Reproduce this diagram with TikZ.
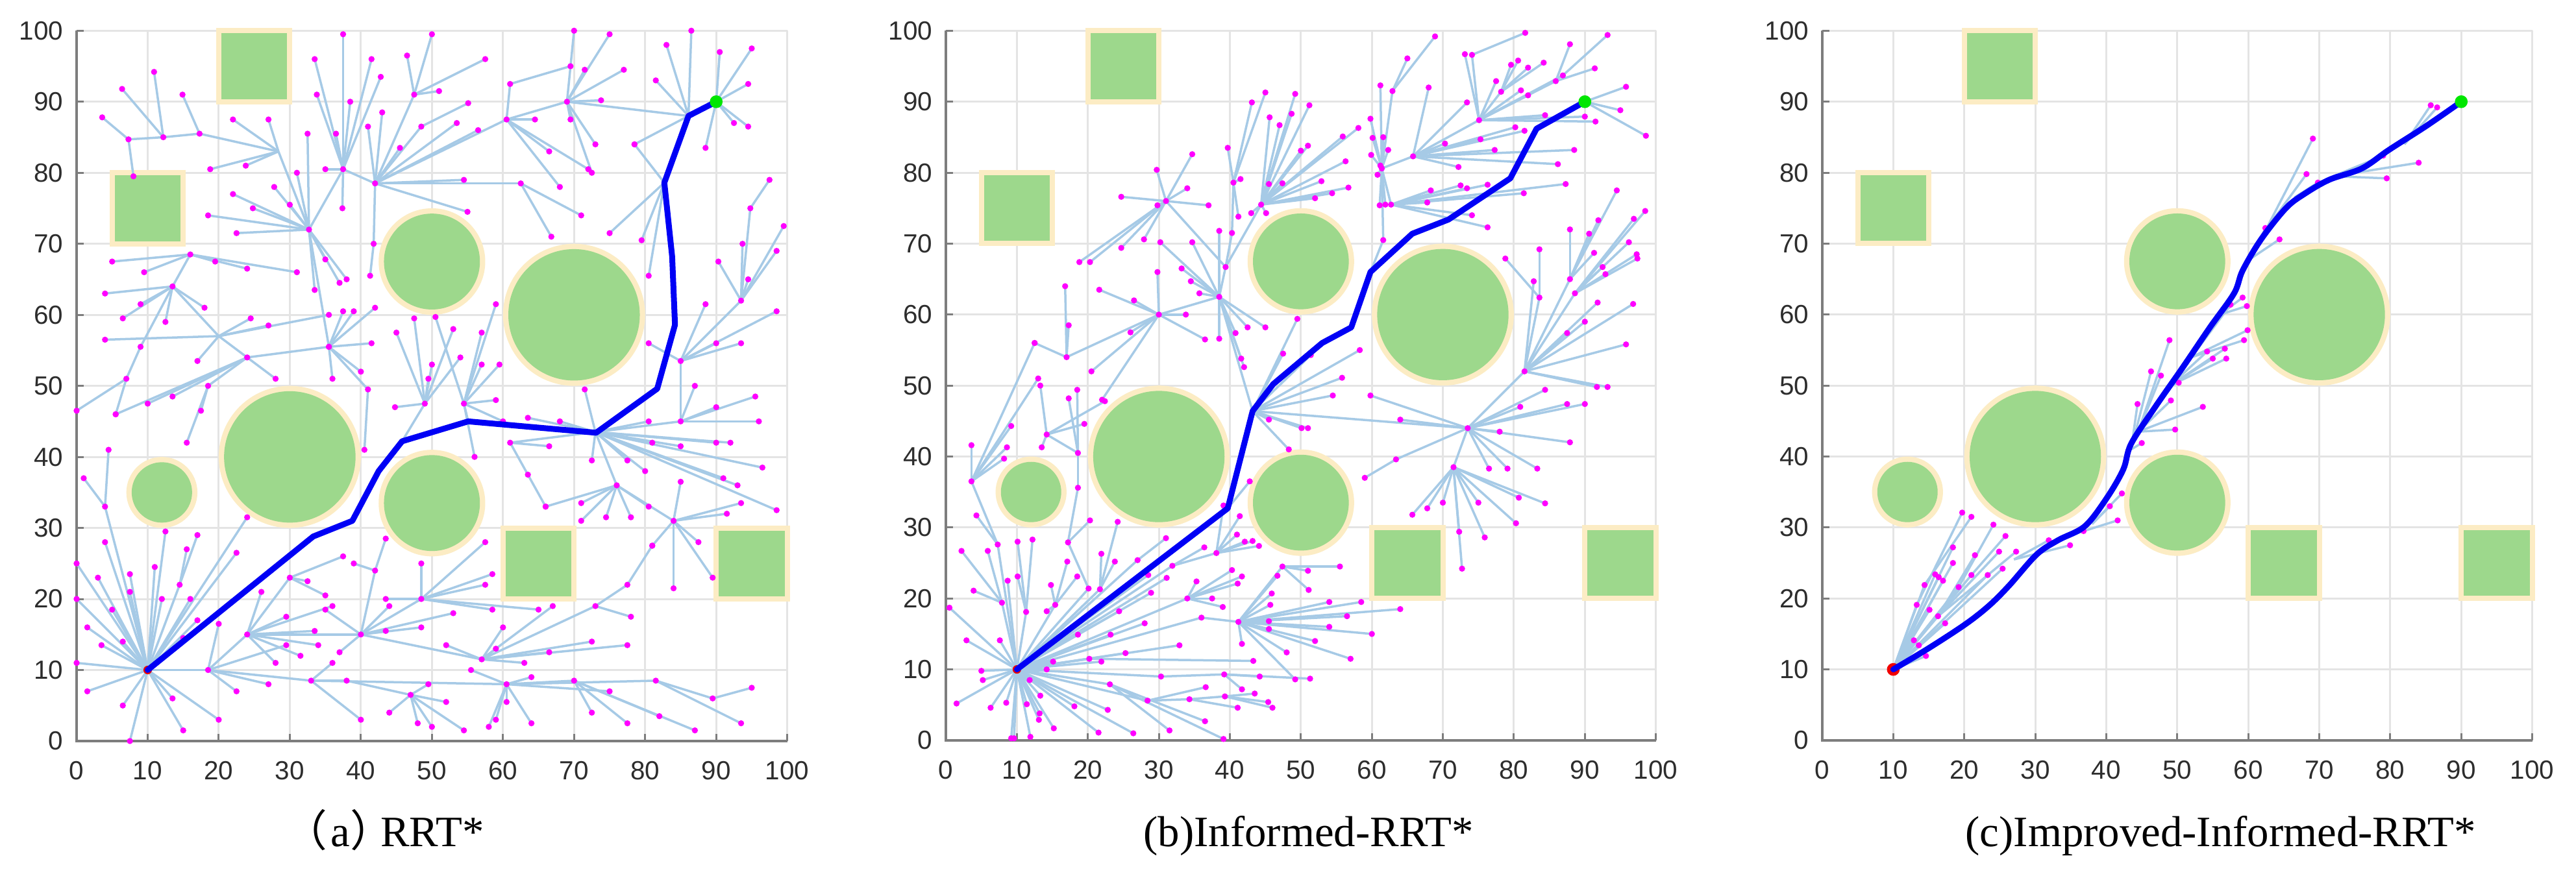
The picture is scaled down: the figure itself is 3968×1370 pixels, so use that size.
\documentclass[tikz,border=0pt]{standalone}
\usepackage{fontspec}
\setmainfont{Liberation Serif}
\newfontfamily\axfont{Liberation Sans}
\newfontfamily\cjkfont{Noto Sans CJK SC}
\definecolor{obsgreen}{RGB}{157,216,140}
\definecolor{obscream}{RGB}{252,236,196}
\definecolor{treeblue}{RGB}{166,202,230}
\definecolor{gridgray}{RGB}{228,228,228}
\definecolor{axgray}{RGB}{125,125,125}
\definecolor{labgray}{RGB}{45,45,45}
\definecolor{pathblue}{RGB}{0,0,245}
\definecolor{goalgreen}{RGB}{0,230,0}
\definecolor{startred}{RGB}{240,0,0}
\definecolor{dotmag}{RGB}{255,0,255}
\tikzset{
 gridline/.style={draw=gridgray,line width=0.03cm},
 axline/.style={draw=axgray,line width=0.04cm},
 tickline/.style={draw=axgray,line width=0.03cm},
 sqobs/.style={fill=obsgreen,draw=obscream,line width=0.08cm},
 tedge/.style={draw=treeblue,line width=0.035cm},
 tdot/.style={fill=dotmag},
 route/.style={draw=pathblue,line width=0.09cm,line join=round,line cap=round},
 ticklab/.style={font=\axfont\fontsize{11.5}{11.5}\selectfont,text=labgray,inner sep=0pt},
 caption/.style={font=\fontsize{19}{22}\selectfont,inner sep=0pt,anchor=base west},
}
\newcommand\plotbase{%
 \foreach \t in {0,10,...,100}{\draw[gridline] (\t,0) -- (\t,100); \draw[gridline] (0,\t) -- (100,\t);}
 \foreach \cx/\cy/\r in {12/35/5,30/40/10,50/67.5/7.5,50/33.5/7.5,70/60/10}{%
   \fill[obscream] (\cx,\cy) circle[radius=\r];
   \fill[obsgreen] (\cx,\cy) circle[radius=\r-0.75];}
 \foreach \sx/\sy in {20/90,5/70,60/20,90/20}{\draw[sqobs] (\sx,\sy) rectangle ++(10,10);}
 \draw[axline] (0,100) -- (0,0) -- (100,0);
 \foreach \t in {0,10,...,100}{%
   \draw[tickline] (\t,0) -- (\t,1); \draw[tickline] (0,\t) -- (1,\t);
   \node[ticklab,anchor=north] (xl\t) at ([yshift=-0.31cm]\t,0) {\t};
   \node[ticklab,anchor=east] (yl\t) at ([xshift=-0.2cm]0,\t) {\t};}
}
\newcommand\hubedges[3]{\foreach \cx/\cy in {#3}{\draw[tedge] (#1,#2) -- (\cx,\cy);}}
\newcommand\hubdots[3]{\foreach \cx/\cy in {#3}{\fill[tdot] (\cx,\cy) circle[radius=0.047cm];}}
\newcommand\drawtree[1]{\let\treehub\hubedges #1\let\treehub\hubdots #1}
\newcommand\goalpoint{\fill[goalgreen] (90,90) circle[radius=0.9];}
\newcommand\treeA{%
\treehub{10}{10}{0/11,1.5/7,6.5/5,7.5/0,3.5/13.5,1.5/16,0/20,5/18.5,6.5/14,3/23,0/25,4/33,7.5/21,7.5/23.5,11/24.5,12.5/29.5,12/20,15/14.5,17/17,13.5/6,15/1.5,20/3,18.5/10,14.5/22,16/20,22.5/26.5,24/31.5,4/28}%
\treehub{4}{33}{4.5/41,1/37}%
\treehub{14.5}{22}{17/29,15.5/27}%
\treehub{18.5}{10}{22.5/7,27/8,33/8.5,24/15,29.5/13.5,20/16.5}%
\treehub{24}{15}{29.5/17.5,33.5/15.5,34/13.5,28/11,30/23,26/21,36/19,31.5/12,40/15}%
\treehub{30}{23}{37.5/26,32.5/22.5,35/20.5}%
\treehub{33}{8.5}{38/8.5,40/3,60.5/8,36/11}%
\treehub{38}{8.5}{47/6.5}%
\treehub{47}{6.5}{48/2.5,50/2,54.5/1.5,52/5.5,49.5/8,44/4}%
\treehub{60.5}{8}{60.5/5.5,59/3,58/2,64/2.5,64/9,70/8.5,81.5/8.5,75/7,55.5/10}%
\treehub{70}{8.5}{72.5/4,77.5/2.5,82/3.5,87/1.5}%
\treehub{81.5}{8.5}{89.5/6,93.5/2.5}%
\treehub{89.5}{6}{95/7.5}%
\treehub{40}{15}{43.5/15.5,48.5/16,53/18,35/18.5,42/24,57/11.5,48.5/20,44/19,37/12.5}%
\treehub{42}{24}{43.5/28.5,39/25}%
\treehub{57}{11.5}{59/13,66.5/12.5,72.5/14,77.5/13.5,60/16,52/13.5,63/11,67/19,73/19}%
\treehub{48.5}{20}{43.5/20,58.5/18.5,65/18.5,57.5/22,58.5/23.5,48.5/25,57.5/28}%
\treehub{73}{19}{78/17.5,77.5/22}%
\treehub{77.5}{22}{81/27.5}%
\treehub{84}{31}{84/21.5,89.5/23,87.5/28,91.5/32,85/36.5,93.5/33.5,81/27.5}%
\treehub{76}{36}{78/31.5,74.5/31.5,71/33.5,71/31,80.5/33,84/31,66/33}%
\treehub{61}{42}{63.5/37.5,66.5/41.5}%
\treehub{63.5}{37.5}{66/33}%
\treehub{73}{43.5}{76/36,80.5/45,85/45,77.5/39.5,80/38,81/42,85/41.5,90/42,92/42,72.5/39.5,68/45,63.5/45.5,61/42,71.5/49.5,91/37,96.5/38.5,98.5/32.5,93/36}%
\treehub{85}{45}{85/53.5,95.5/48.5,90/47,87/50,96/45}%
\treehub{85}{53.5}{98.5/60.5,93.5/56,90/56,88.5/61.5,93.5/62,80.5/56}%
\treehub{93.5}{62}{94.8/75,93.7/70,98.5/69,99.5/72.5,90.3/67.5,94.5/65}%
\treehub{94.8}{75}{97.5/79}%
\treehub{90}{90}{95/97.5,94.5/92.5,92.5/87,94.5/86.5,90.5/97,88.5/83.5}%
\treehub{86.1}{88}{86.5/100,83/98,81.5/93,78.5/84}%
\treehub{69}{90}{86.1/88,73.8/90.2,77/94.5,71.5/94.5,70/100,75/99.5,69.5/87.5,73/84,72.5/80}%
\treehub{60.5}{87.5}{64.5/87.5,66.5/83,68/78,69/90,61/92.5,72/80.5}%
\treehub{61}{92.5}{69.5/95}%
\treehub{42}{78.5}{60.5/87.5,54.5/79,62.5/78.5,45.5/83.5,48.5/86.5,56.5/86,53.5/87,41/86.5,43/88.5,47.5/91,55/74.5,41.8/70}%
\treehub{48.5}{86.5}{55.1/89.8}%
\treehub{62.5}{78.5}{66.8/71,71/74}%
\treehub{82.7}{78.6}{75/71.5,79.5/70.5,80.5/65.5,78.5/84}%
\treehub{47.5}{91}{46.5/96.5,50/99.5,51/91.5,57.5/96}%
\treehub{37.5}{80.5}{37.5/99.5,38.5/90,41.5/96,42.8/93.5,36.5/85.5,33.8/91,35/80.5,42/78.5,33.5/96,37.4/75}%
\treehub{32.7}{72}{37.5/80.5,18.5/74,22.5/71.5,24.8/75,22/77,27.8/78,30/75.5,31/80,32.5/85.5,35/67.8,37/64.5,38/65,33.5/63.5,35.5/55.5}%
\treehub{28.4}{83}{22/87.5,27/87.5,18.8/80.5,23.8/81,17.3/85.5,32.7/72}%
\treehub{17.3}{85.5}{12.2/85,14.9/91}%
\treehub{12.2}{85}{6.4/91.8,10.9/94.2,7.3/84.7}%
\treehub{7.3}{84.7}{8/79.5,3.6/87.8}%
\treehub{16}{68.5}{9.5/66,5/67.5,19.5/67.5,24/66.5,31/66}%
\treehub{13.5}{64}{4/63,9/61.5,6.5/59.5,18/61,12.5/59,16/68.5,9/55.5}%
\treehub{9}{55.5}{7/51}%
\treehub{7}{51}{0/46.5,5.5/46}%
\treehub{20}{57}{24.5/59.5,27/58.5,24/54,17/53.5,4/56.5,13.5/64,35.5/60}%
\treehub{24}{54}{18.5/50,13.5/48.5,10/47.5,28/51,35.5/55.5,5.5/46}%
\treehub{18.5}{50}{15.5/42,17.5/46.5}%
\treehub{35.5}{55.5}{41.5/56,36/51,40/52,42/61,37.5/60.5,39/60.5,41/49.5}%
\treehub{41}{49.5}{40.5/41}%
\treehub{41.8}{70}{41.3/65.5}%
\treehub{45.8}{42.2}{49/47.5}%
\treehub{49}{47.5}{49.5/51,50/53,53/58,54/54,47.5/59.5,44.8/47,45/57.5}%
\treehub{55.1}{45}{54.5/47.5}%
\treehub{54.5}{47.5}{57/53,59/48,59.5/53,59/61.5,57/57.5,50.5/59.7,56/40,60/45}%
}
\newcommand\treeB{%
\treehub{10}{10}{0.5/18.7,2.9/14.1,1.5/5.2,5/9.8,5.2/8.5,6.3/4.6,8.5/5.3,9.2/0.3,9.6/0.3,11.9/0.5,11.4/5.1,13.2/3.8,13.1/2.9,15.2/1.7,13.3/6.3,11.8/8.5,14.2/10,15.1/11.1,7.6/14.1,7.3/27.6,7.9/19.4,8.7/22.5,11.3/18.1,15.4/19.1,18.6/14.9,23.2/14.9,28/16.5,34/20,36/17.3,32.9/13.4,25.3/12.3,20.2/11.5,21.9/11.1,23.1/7.9,18.1/4.8,22.8/4.3,21.5/1.1,26.4/1,28.4/5.6,30.3/9,20.1/21.4,21.7/21.3,24.4/18.2,31.9/24.6,27/25.4,28.5/23.3,31.1/22.9,28.9/20.8}%
\treehub{7.3}{27.6}{3.6/36.5,4.3/31.7}%
\treehub{3.6}{36.5}{3.6/41.6,8.6/41.3,8.2/39.7,9.2/44.3,12.5/56,13/51}%
\treehub{7.9}{19.4}{2.2/26.7,5.9/26.7,3.9/21.1}%
\treehub{11.3}{18.1}{10.1/28,12.2/28.3,10.1/23.1}%
\treehub{15.4}{19.1}{17.1/25.2,18.5/23.1,14.8/21.9,14.2/18.2}%
\treehub{20.1}{21.4}{17.2/27.9}%
\treehub{17.2}{27.9}{20.3/31,18.6/35.6}%
\treehub{18.6}{35.6}{18.6/40.5}%
\treehub{18.6}{40.5}{14.2/43.1,18.5/49.4,17.3/48.2}%
\treehub{14.2}{43.1}{13.5/41.3,19.5/44.6,22.4/47.8,13.3/50}%
\treehub{21.7}{21.3}{21.9/26.3,24.2/30.8,23.8/25.2}%
\treehub{27}{25.4}{31/28.5}%
\treehub{34}{20}{35.3/22.4,37.5/20,39/18.8,40.3/24,41.1/22.1,41.7/23.1}%
\treehub{36}{17.3}{41.2/16.7}%
\treehub{41.2}{16.7}{45.5/16.8,45.5/15.7,45.7/19.1,45.9/20.7,41.7/13.6,48/12.4,49.2/8.6,54/16,56.5/17.5,60/15,64/18.5,58.5/19.5,54/19.5,52/14,57/11.5,46.7/23.2,47.4/24.5}%
\treehub{20.2}{11.5}{43.3/11.2}%
\treehub{30.3}{9}{39.2/9.3}%
\treehub{39.2}{9.3}{44.2/9,41.7/7.2,51.3/8.7}%
\treehub{28.4}{5.6}{34.3/5.8,36.6/7.5}%
\treehub{34.3}{5.8}{39.3/6.2,41.1/4.6}%
\treehub{39.3}{6.2}{45.4/5.4,46/4.6,43.5/6.6}%
\treehub{23.1}{7.9}{39.1/0.2,31.5/1.4,36.5/2.7}%
\treehub{31.9}{24.6}{36.4/27.2,38.1/26.4}%
\treehub{38.1}{26.4}{41/29,41.4/31.6,42.1/28,43.2/28.1,44.1/27.4,39.1/33.1}%
\treehub{39.7}{32.7}{42.8/36.5}%
\treehub{47.4}{24.5}{51/23.9,55.5/24.5,51.1/21.2}%
\treehub{17}{54}{17.3/58.5,16.8/64,12.5/56}%
\treehub{30}{60}{17/54,21.6/63.5,26/57.5,26.5/62,22/48,33.8/60,36.5/56.5,29.8/66,20.5/52}%
\treehub{38.5}{62.5}{30/60,34.5/64.7,35.7/63,33.2/66.5,38.5/71.8,34.7/70.2,30.2/70.2,39.4/66.7,42.5/58.2,45/58.2,40.8/57.4,38.5/56.6,41.6/53.8,42/52.6}%
\treehub{43.2}{46.4}{38.5/62.5,73.5/44,45.5/45.2,48.3/41,50.1/44,51/44,54.5/48.6,55.8/51.1,58.3/55,51.4/54.3,49.5/59.4,47.5/54.5}%
\treehub{31}{76}{24.7/76.6,24.7/69.4,29.7/80.4,29.8/75.4,27.9/70.6,34.7/82.6,34/77.8,37/75.4,18.8/67.4,20.3/67.4}%
\treehub{39.4}{66.7}{40.3/71.5,44.4/75.5,31/76}%
\treehub{40.3}{71.5}{40.5/78.6}%
\treehub{40.5}{78.6}{43.1/89.9,45/91.3,39.7/83.5,41.5/79.1,41.2/73.8}%
\treehub{44.4}{75.5}{49.2/91.1,51.2/89.5,45.6/87.8,47/86.7,48.7/88.3,45.5/78.4,47.4/78.5,43/74.3,45.1/74.3,55.9/85.1,58.1/86.3,56.3/81.6,51/83.8,50/83.1,52.9/78.8,54.4/77.1,52/76.4,56.7/77.9}%
\treehub{59.8}{66}{61.6/70.5}%
\treehub{61.6}{70.5}{61.4/80.6}%
\treehub{61.4}{80.6}{61.2/92.3,62.9/91.5,59.8/87.6,60.1/84.9,61.6/85,62.3/83.2,59.9/82.5,61.2/81,60.8/79.7,61.9/75.5,62.7/75.5,61.1/75.4,65.8/82.3}%
\treehub{62.9}{91.5}{65/96.1,68.9/99.2}%
\treehub{65.8}{82.3}{70.3/84.1,75.3/84.7,77.3/83.2,80.2/86.4,81.5/85.9,73.4/89.9,88.5/83.2,86.2/81.2,68/92,72.2/80.8,75.1/87.4}%
\treehub{62.7}{75.5}{72.5/78.2,73.4/77.8,76.3/78.3,87.3/78.4,81.4/77.1,68.3/77.5,67.8/75.8,74.1/74,76.3/72.3}%
\treehub{75.1}{87.4}{84.4/88.1,90/87.9,91.5/87.2,78.2/91.4,77.5/92.9,81/91.6,82/90.9,85.9/92.9,86.9/93.7,73.1/96.7,74.1/96.6}%
\treehub{74.1}{96.6}{81.6/99.7}%
\treehub{78.2}{91.4}{79.6/95.2,80.6/95.8,84.2/95.5,82/94.8}%
\treehub{85.9}{92.9}{87.9/98.1,91.4/94.7}%
\treehub{86.9}{93.7}{93.2/99.4}%
\treehub{90}{90}{95.8/92.1,95/88.8,98.6/85.2}%
\treehub{73.5}{44}{78/43.5,80.9/47,81.5/52,84.4/49.4,87.5/47.4,90/47.4,87.9/42,83.3/38.3,76.5/38.3,79.1/38.3,63.4/39.6,64/45.2,59.8/48.6,71.5/38.5}%
\treehub{71.5}{38.5}{70/33.5,67.8/32.7,65.7/31.8,75/33.5,75.9/28.6,72.3/29.4,72.7/24.2,80.7/34.2,80.3/30.6,84.4/33.4}%
\treehub{63.4}{39.6}{59/37}%
\treehub{81.5}{52}{83.6/62.4,82.8/64.7,87.9/65,88.6/63,91.8/61.7,96.8/61.5,87.5/57.4,90/59,95.8/55.8,91.7/49.8,93.2/49.8}%
\treehub{83.6}{62.4}{83.6/69.2,78.8/67.9}%
\treehub{88.6}{63}{98.5/74.6,96.9/73.5,96.2/70.2,97.3/68.5,97.4/67.9,92.5/66.7,92.9/65.7}%
\treehub{87.9}{65}{94.5/77.5,91.9/73.3,87.9/72,90.6/71.4,91.3/68.7}%
}
\newcommand\treeC{%
\treehub{10}{10}{13.3/19.1,14.4/21.9,15.9/23.4,16.4/23,17/22.5,18.4/27.2,18.4/25,15.1/18.4,16.3/17.5,17.3/16.5,12.9/14.1,13.6/13.4,14.6/11.9,19.2/21.6,21/23.3,23.3/23.3,25.4/24.2}%
\treehub{13.3}{19.1}{19.7/32.1}%
\treehub{14.4}{21.9}{21/31.5}%
\treehub{19.2}{21.6}{24.1/30.4}%
\treehub{21}{23.3}{25.8/28.8}%
\treehub{16.3}{17.5}{21.5/26.1,24.9/26.6,27.3/26.6}%
\treehub{27}{25.5}{31.9/28.2,34.9/27.5}%
\treehub{33}{28.3}{36.8/29.5,41.6/31}%
\treehub{38}{30.5}{40.5/33,42.2/34.8}%
\treehub{43.5}{41}{44.4/47.4,46.3/52,45/41.9}%
\treehub{44.5}{43.5}{47.7/51.4,48.9/56.4,49.1/47.9,49.7/43.8,53.6/47}%
\treehub{49}{50}{50.2/50.4,54.2/54.8,55/53.8,56.7/55.2,56.9/53.8}%
\treehub{52}{54}{59.4/56.4,59.9/57.8,57.5/61.4}%
\treehub{56}{60}{59.2/62.4,59.8/61.2}%
\treehub{60.5}{68}{62.4/72.2,64.4/70.6}%
\treehub{62.5}{72}{68.2/79.8,69.1/84.8}%
\treehub{66.5}{76.5}{69.8/78.6}%
\treehub{72}{79.5}{79/82.4,79.5/79.2,84/81.4}%
\treehub{82}{84}{85.7/89.5,86.6/89.2}%
}
\begin{document}
\begin{tikzpicture}[x=0.01cm,y=0.01cm]
\useasboundingbox (0,0) rectangle (3968,1370);
\fill[white] (0,0) rectangle (3968,1370);
% ---------------- (a) RRT* ----------------
\begin{scope}[shift={(118,228)},x=0.1094cm,y=0.1094cm]
\plotbase
\drawtree{\treeA}
\fill[startred] (10,10) circle[radius=0.6];
\draw[route] (10,10) -- (33.3,28.8) -- (38.8,31) -- (42.5,38) -- (45.8,42.2) -- (55.1,45) -- (73.1,43.4) -- (81.7,49.6) -- (84.2,58.6) -- (83.8,68.2) -- (82.7,78.6) -- (86.1,88) -- (90,90);
\goalpoint
\end{scope}
% ---------------- (b) Informed-RRT* ----------------
\begin{scope}[shift={(1457,229)},x=0.1093cm,y=0.1093cm]
\plotbase
\drawtree{\treeB}
\fill[startred] (10,10) circle[radius=0.6];
\draw[route] (10,10) -- (39.7,32.7) -- (43.2,46.4) -- (46.1,50.2) -- (53,56) -- (57.1,58.2) -- (59.8,66) -- (65.7,71.4) -- (70.8,73.4) -- (79.5,79.2) -- (83.2,86.2) -- (90,90);
\goalpoint
\end{scope}
% ---------------- (c) Improved-Informed-RRT* ----------------
\begin{scope}[shift={(2807,229)},x=0.1093cm,y=0.1093cm]
\plotbase
\drawtree{\treeC}
\fill[startred] (10,10) circle[radius=0.9];
\draw[route] plot[smooth,tension=0.55] coordinates {(10,10) (15,13) (20.2,16.4) (23.5,19) (26.3,21.8) (30.2,26.2) (33.2,28.2) (37,30.2) (40.1,34.2) (42.4,38.2) (43.5,41.8) (46.9,47) (50.8,52.6) (54.6,58.2) (58,63) (59.2,66.2) (61.8,70.6) (65.3,75) (67.9,77) (71.4,79) (76,80.6) (79.8,83.2) (85.1,86.6) (90,90)};
\goalpoint
\end{scope}
% ---------------- captions ----------------
\node[caption] (capa) at (437,65) {{\cjkfont （}\kern0.08em a{\cjkfont ）}\kern-0.3em RRT*};
\node[caption] (capb) at (1761,65) {(b)Informed-RRT*};
\node[caption] (capc) at (3027,65) {(c)Improved-Informed-RRT*};
\end{tikzpicture}
\end{document}
